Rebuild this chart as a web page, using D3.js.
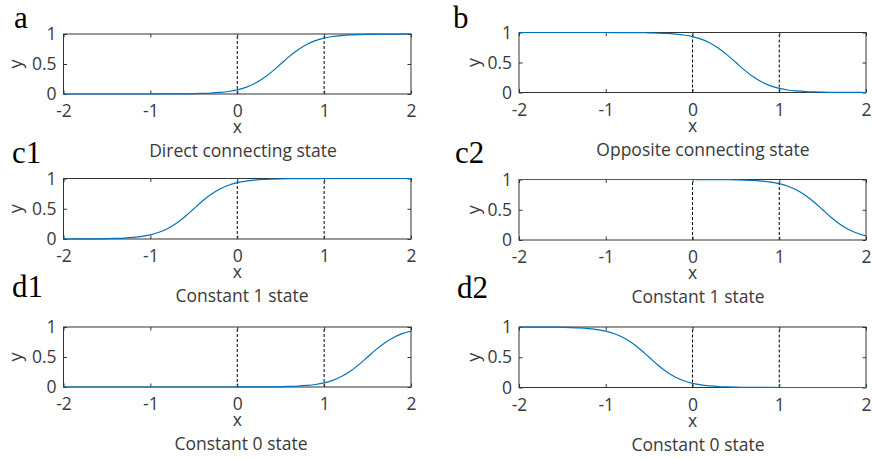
<!DOCTYPE html>
<html>
<head>
<meta charset="utf-8">
<script src="https://cdn.jsdelivr.net/npm/d3@7"></script>
<style>
  html, body { margin: 0; padding: 0; background: #fff; }
  svg { display: block; }
</style>
</head>
<body>
<svg id="fig" width="872" height="459"></svg>
<script>
// Sample positions along x (step 0.1)
const xs = [-2, -1.9, -1.8, -1.7, -1.6, -1.5, -1.4, -1.3, -1.2, -1.1,
            -1, -0.9, -0.8, -0.7, -0.6, -0.5, -0.4, -0.3, -0.2, -0.1,
            0, 0.1, 0.2, 0.3, 0.4, 0.5, 0.6, 0.7, 0.8, 0.9,
            1, 1.1, 1.2, 1.3, 1.4, 1.5, 1.6, 1.7, 1.8, 1.9, 2];

// Response curves for each state
const yDirect = [0, 0, 0, 0, 0, 0, 0, 0, 0, 0,
                 0, 0.001, 0.001, 0.002, 0.003, 0.005, 0.009, 0.015, 0.026, 0.042,
                 0.069, 0.111, 0.174, 0.261, 0.373, 0.5, 0.627, 0.739, 0.826, 0.889,
                 0.931, 0.958, 0.974, 0.985, 0.991, 0.995, 0.997, 0.998, 0.999, 0.999, 1];
const yOpposite = [1, 1, 1, 1, 1, 1, 1, 1, 1, 1,
                   1, 0.999, 0.999, 0.998, 0.997, 0.995, 0.991, 0.985, 0.974, 0.958,
                   0.931, 0.889, 0.826, 0.739, 0.627, 0.5, 0.373, 0.261, 0.174, 0.111,
                   0.069, 0.042, 0.026, 0.015, 0.009, 0.005, 0.003, 0.002, 0.001, 0.001, 0];
const yConst1a = [0, 0.001, 0.001, 0.002, 0.003, 0.005, 0.009, 0.015, 0.026, 0.042,
                  0.069, 0.111, 0.174, 0.261, 0.373, 0.5, 0.627, 0.739, 0.826, 0.889,
                  0.931, 0.958, 0.974, 0.985, 0.991, 0.995, 0.997, 0.998, 0.999, 0.999,
                  1, 1, 1, 1, 1, 1, 1, 1, 1, 1, 1];
const yConst1b = [1, 1, 1, 1, 1, 1, 1, 1, 1, 1,
                  1, 1, 1, 1, 1, 1, 1, 1, 1, 1,
                  1, 0.999, 0.999, 0.998, 0.997, 0.995, 0.991, 0.985, 0.974, 0.958,
                  0.931, 0.889, 0.826, 0.739, 0.627, 0.5, 0.373, 0.261, 0.174, 0.111, 0.069];
const yConst0a = [0, 0, 0, 0, 0, 0, 0, 0, 0, 0,
                  0, 0, 0, 0, 0, 0, 0, 0, 0, 0,
                  0, 0.001, 0.001, 0.002, 0.003, 0.005, 0.009, 0.015, 0.026, 0.042,
                  0.069, 0.111, 0.174, 0.261, 0.373, 0.5, 0.627, 0.739, 0.826, 0.889, 0.931];
const yConst0b = [1, 0.999, 0.999, 0.998, 0.997, 0.995, 0.991, 0.985, 0.974, 0.958,
                  0.931, 0.889, 0.826, 0.739, 0.627, 0.5, 0.373, 0.261, 0.174, 0.111,
                  0.069, 0.042, 0.026, 0.015, 0.009, 0.005, 0.003, 0.002, 0.001, 0.001,
                  0, 0, 0, 0, 0, 0, 0, 0, 0, 0, 0];

// Axis ticks and reference lines
const xTicks = [-2, -1, 0, 1, 2];
const xTickLabels = ["-2", "-1", "0", "1", "2"];
const yTicks = [0, 0.5, 1];
const yTickLabels = ["0", "0.5", "1"];
const markers = [0, 1];

// Panel letters and captions
const panelLetters = ["a", "b", "c1", "c2", "d1", "d2"];
const panelCaptions = [
  "Direct connecting state", "Opposite connecting state",
  "Constant 1 state", "Constant 1 state",
  "Constant 0 state", "Constant 0 state"
];
const panelSeries = [yDirect, yOpposite, yConst1a, yConst1b, yConst0a, yConst0b];

// Geometry of each axes box
const boxes = [
  {l: 63.5, r: 411, t: 34,    b: 94,    lx: 14,  ly: 28,  cx: 243},
  {l: 519,  r: 866, t: 32.5,  b: 92.5,  lx: 453, ly: 28,  cx: 703},
  {l: 63.5, r: 411, t: 178.5, b: 239,   lx: 12,  ly: 163, cx: 242},
  {l: 519,  r: 866, t: 179.5, b: 240,   lx: 455, ly: 163, cx: 698},
  {l: 63.5, r: 411, t: 327,   b: 387,   lx: 12,  ly: 297, cx: 241},
  {l: 519,  r: 866, t: 327,   b: 387.5, lx: 457, ly: 298, cx: 698}
];

const svg = d3.select("#fig");
const sans = "'Open Sans', 'Noto Sans', sans-serif";
const fs = 17.5;
const textCol = "#3a3a3a";
const axisCol = "#333";
const tickLen = 3.5;

boxes.forEach((bx, i) => {
  const x = d3.scaleLinear().domain([-2, 2]).range([bx.l, bx.r]);
  const y = d3.scaleLinear().domain([0, 1]).range([bx.b, bx.t]);
  const g = svg.append("g");

  // dashed markers at x = 0 and x = 1
  g.selectAll("line.marker").data(markers).join("line")
    .attr("class", "marker")
    .attr("x1", d => x(d)).attr("x2", d => x(d))
    .attr("y1", bx.b).attr("y2", bx.t)
    .attr("stroke", "#000").attr("stroke-width", 1)
    .attr("stroke-dasharray", "3,2");

  // bottom axis with inward ticks
  const ax = g.append("g").attr("transform", `translate(0,${bx.b})`)
    .call(d3.axisBottom(x).tickValues(xTicks).tickFormat((d, k) => xTickLabels[k])
      .tickSizeInner(-tickLen).tickSizeOuter(0).tickPadding(11));
  ax.select(".domain").remove();
  ax.selectAll("line").attr("stroke", axisCol);
  ax.selectAll("text").attr("font-family", sans).attr("font-size", fs).attr("fill", textCol);

  // top ticks
  g.append("g").attr("transform", `translate(0,${bx.t})`)
    .call(d3.axisTop(x).tickValues(xTicks).tickFormat("").tickSizeInner(-tickLen).tickSizeOuter(0))
    .call(s => { s.select(".domain").remove(); s.selectAll("line").attr("stroke", axisCol); });

  // left axis
  const ay = g.append("g").attr("transform", `translate(${bx.l},0)`)
    .call(d3.axisLeft(y).tickValues(yTicks).tickFormat((d, k) => yTickLabels[k])
      .tickSizeInner(-tickLen).tickSizeOuter(0).tickPadding(7));
  ay.select(".domain").remove();
  ay.selectAll("line").attr("stroke", axisCol);
  ay.selectAll("text").attr("font-family", sans).attr("font-size", fs).attr("fill", textCol);

  // right ticks
  g.append("g").attr("transform", `translate(${bx.r},0)`)
    .call(d3.axisRight(y).tickValues(yTicks).tickFormat("").tickSizeInner(-tickLen).tickSizeOuter(0))
    .call(s => { s.select(".domain").remove(); s.selectAll("line").attr("stroke", axisCol); });

  // axes box
  g.append("rect")
    .attr("x", bx.l).attr("y", bx.t)
    .attr("width", bx.r - bx.l).attr("height", bx.b - bx.t)
    .attr("fill", "none").attr("stroke", axisCol).attr("stroke-width", 1);

  // curve
  const line = d3.line().x((d, k) => x(xs[k])).y(d => y(d)).curve(d3.curveMonotoneX);
  g.append("path").datum(panelSeries[i])
    .attr("d", line)
    .attr("fill", "none").attr("stroke", "#0072BD").attr("stroke-width", 1.2);

  // axis labels
  g.append("text").attr("x", x(0)).attr("y", bx.b + 39)
    .attr("text-anchor", "middle").attr("font-family", sans).attr("font-size", fs)
    .attr("fill", textCol).text("x");
  const yMid = y(0.5);
  const yLabX = i % 2 === 0 ? 22 : 480;
  g.append("text").attr("transform", `translate(${yLabX},${yMid}) rotate(-90)`)
    .attr("text-anchor", "middle").attr("font-family", sans).attr("font-size", 18)
    .attr("fill", textCol).text("y");

  // caption
  g.append("text").attr("x", bx.cx).attr("y", bx.b + 63)
    .attr("text-anchor", "middle").attr("font-family", sans).attr("font-size", fs)
    .attr("fill", textCol).text(panelCaptions[i]);

  // panel letter
  g.append("text").attr("x", bx.lx).attr("y", bx.ly)
    .attr("font-family", "'Liberation Serif', 'Times New Roman', serif").attr("font-size", 31)
    .attr("fill", "#000").text(panelLetters[i]);
});
</script>
</body>
</html>
